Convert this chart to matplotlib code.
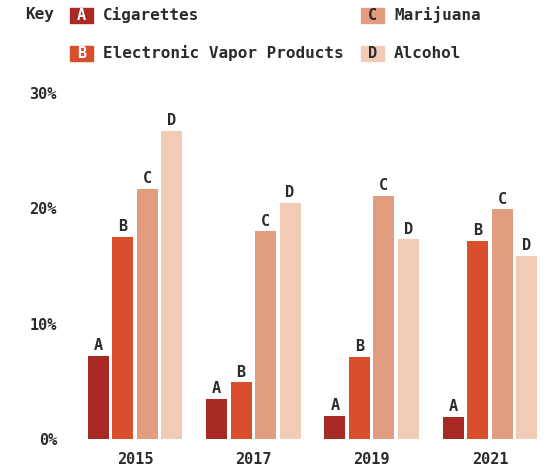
import numpy as np
import matplotlib.pyplot as plt
from matplotlib.patches import Rectangle

# Data
years = ["2015", "2017", "2019", "2021"]
letters = ["A", "B", "C", "D"]
products = ["Cigarettes", "Electronic Vapor Products", "Marijuana", "Alcohol"]
cigarettes = [7.2, 3.5, 2.0, 1.9]
vapor = [17.5, 4.9, 7.1, 17.2]
marijuana = [21.7, 18.0, 21.1, 19.9]
alcohol = [26.7, 20.5, 17.3, 15.9]

colors = ["#a82a24", "#d94f2e", "#e29c7f", "#f2cbb7"]
text_color = "#2b2b2b"

plt.rcParams["font.family"] = ["DejaVu Sans Mono"]
plt.rcParams["font.weight"] = "bold"

W, H = 550, 468
fig = plt.figure(figsize=(W / 100, H / 100), dpi=100)

# axes placed in pixel terms
left_px, right_px, top_px, base_px = 75, 545, 93, 439
ax = fig.add_axes([left_px / W, 1 - base_px / H, (right_px - left_px) / W, (base_px - top_px) / H])

spacing = 118.3
x = np.arange(len(years))
ax.set_xlim((left_px - 135) / spacing, (right_px - 135) / spacing)
ax.set_ylim(0, 30)

step = 24.5 / spacing
width = 21 / spacing
series = [cigarettes, vapor, marijuana, alcohol]
for i, vals in enumerate(series):
    pos = x + (i - 1.5) * step
    ax.bar(pos, vals, width=width, color=colors[i], zorder=2)
    for p, v in zip(pos, vals):
        ax.text(p, v + 0.25, letters[i], ha="center", va="bottom",
                fontsize=11, fontweight="bold", color=text_color)

ax.set_xticks(x)
ax.set_xticklabels(years)
ax.set_yticks([0, 10, 20, 30])
ax.set_yticklabels(["0%", "10%", "20%", "30%"])
ax.tick_params(axis="both", length=0, labelsize=11, colors=text_color)
ax.tick_params(axis="y", pad=13)
ax.tick_params(axis="x", pad=9)
for s in ax.spines.values():
    s.set_visible(False)

# Key / legend
fig.text(25 / W, 1 - 15 / H, "Key", ha="left", va="center",
         fontsize=11.5, fontweight="bold", color=text_color)
legend_pos = [(70, 15), (70, 53), (361, 15), (361, 53)]
for i, (lx, ly) in enumerate(legend_pos):
    fig.patches.append(Rectangle((lx / W, 1 - (ly + 7.5) / H), 23 / W, 15 / H,
                                 transform=fig.transFigure, color=colors[i]))
    letter_col = "white" if i < 2 else text_color
    fig.text((lx + 11.5) / W, 1 - ly / H, letters[i], ha="center", va="center",
             fontsize=11, fontweight="bold", color=letter_col)
    fig.text((lx + 33) / W, 1 - ly / H, products[i], ha="left", va="center",
             fontsize=11.5, fontweight="bold", color=text_color)

fig.savefig("out.png", dpi=100)
